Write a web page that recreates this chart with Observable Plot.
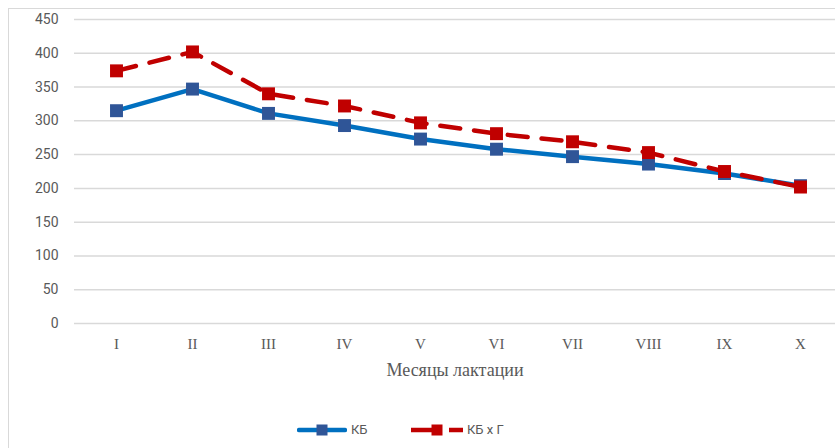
<!DOCTYPE html>
<html>
<head>
<meta charset="utf-8">
<script src="https://cdn.jsdelivr.net/npm/d3@7"></script>
<script src="https://cdn.jsdelivr.net/npm/@observablehq/plot@0.6"></script>
<style>
  body { margin: 0; background: #fff; }
  #wrap { position: relative; width: 835px; height: 448px; overflow: hidden; }
  #frame { position: absolute; left: 8px; top: 8px; width: 900px; height: 500px;
           border-left: 1.5px solid #d9d9d9; border-top: 1.5px solid #d9d9d9; }
  #chart { position: absolute; left: 0; top: 0; }
  #legend { position: absolute; left: 0; top: 400px; width: 835px; height: 48px;
            font-family: Roboto, "Noto Sans", sans-serif; font-size: 13px; color: #595959; }
  .item { position: absolute; top: 22px; height: 16px; display: flex; align-items: center; }
  .item svg { display: block; }
  .item span { margin-left: 4px; line-height: 16px; }
</style>
</head>
<body>
<div id="wrap">
  <div id="frame"></div>
  <div id="chart"></div>
  <div id="legend"></div>
</div>
<script>
// Months of lactation
const months = ["I", "II", "III", "IV", "V", "VI", "VII", "VIII", "IX", "X"];
// Series values
const kb  = [315, 347, 311, 293, 273, 258, 247, 236, 222, 204];
const kbg = [374, 402, 340, 322, 297, 281, 269, 253, 225, 202];
// Series names
const seriesNames = ["КБ", "КБ x Г"];
// Y axis ticks
const yTicks = [0, 50, 100, 150, 200, 250, 300, 350, 400, 450];

const blueLine = "#0070C0", blueMark = "#2F5597", red = "#C00000";

const rowsKB  = months.map((m, i) => ({month: m, value: kb[i]}));
const rowsKBG = months.map((m, i) => ({month: m, value: kbg[i]}));

const chart = Plot.plot({
  width: 835,
  height: 400,
  marginLeft: 74,
  marginRight: 0,
  marginTop: 19,
  marginBottom: 77,
  style: {background: "transparent", overflow: "visible"},
  // month centres, one category step (76.8px) apart, first half a step in from the axis
  x: {type: "point", domain: months, range: [112.4, 803.6], padding: 0},
  y: {domain: [0, 450]},
  marks: [
    Plot.gridY(yTicks, {stroke: "#d9d9d9", strokeOpacity: 1, strokeWidth: 1.5}),
    Plot.axisY(yTicks, {tickSize: 0, tickPadding: 16, fontSize: 14,
      fontFamily: "Roboto, sans-serif", color: "#595959", label: null}),
    Plot.axisX({tickSize: 0, tickPadding: 14.5, fontSize: 15,
      fontFamily: "'Liberation Serif', serif", color: "#595959", label: null}),
    Plot.axisX([], {tickSize: 0, fontSize: 18, fontFamily: "'Liberation Serif', serif",
      color: "#595959", label: "Месяцы лактации", labelAnchor: "center", labelOffset: 52}),
    Plot.line(rowsKB, {x: "month", y: "value", stroke: blueLine, strokeWidth: 4.5,
      strokeLinejoin: "round", strokeLinecap: "round"}),
    Plot.dot(rowsKB, {x: "month", y: "value", symbol: "square", r: 7.3, fill: blueMark, stroke: "none"}),
    Plot.line(rowsKBG, {x: "month", y: "value", stroke: red, strokeWidth: 4.5,
      strokeDasharray: "20,14", strokeLinejoin: "round"}),
    Plot.dot(rowsKBG, {x: "month", y: "value", symbol: "square", r: 7.3, fill: red, stroke: "none"})
  ]
});
document.getElementById("chart").appendChild(chart);

// Legend
const legend = d3.select("#legend");
const items = [
  {name: seriesNames[0], left: 297, w: 50, line: blueLine, mark: blueMark, dash: null, cap: "round", mx: 25},
  {name: seriesNames[1], left: 411, w: 52, line: red, mark: red, dash: "30,8,14", cap: "butt", mx: 26}
];
items.forEach(d => {
  const it = legend.append("div").attr("class", "item").style("left", d.left + "px");
  const svg = it.append("svg").attr("width", d.w).attr("height", 16);
  svg.append("line")
    .attr("x1", d.cap === "round" ? 2 : 0).attr("x2", d.cap === "round" ? d.w - 2 : d.w)
    .attr("y1", 8).attr("y2", 8)
    .attr("stroke", d.line).attr("stroke-width", 4.5)
    .attr("stroke-linecap", d.cap)
    .attr("stroke-dasharray", d.dash);
  svg.append("rect").attr("x", d.mx - 5.5).attr("y", 2.5).attr("width", 11).attr("height", 11)
    .attr("fill", d.mark);
  it.append("span").text(d.name);
});
</script>
</body>
</html>
